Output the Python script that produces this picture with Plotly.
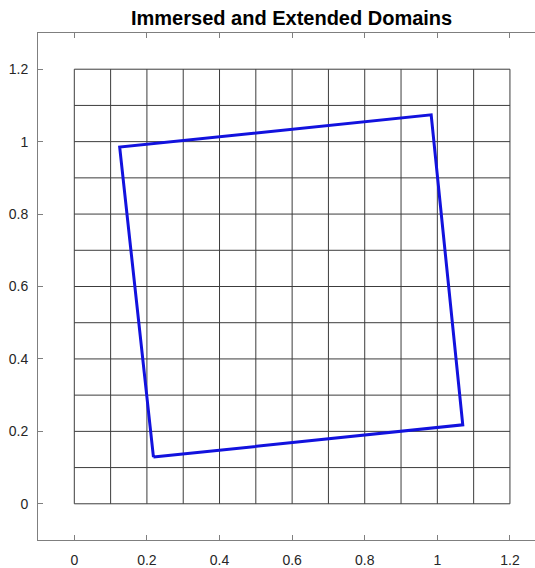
import plotly.graph_objects as go

# Background mesh nodes (extended domain) and immersed square vertices
grid_x = [0.0, 0.1, 0.2, 0.3, 0.4, 0.5, 0.6, 0.7, 0.8, 0.9, 1.0, 1.1, 1.2]
grid_y = [0.0, 0.1, 0.2, 0.3, 0.4, 0.5, 0.6, 0.7, 0.8, 0.9, 1.0, 1.1, 1.2]
domain_x = [0.218, 1.070, 0.983, 0.125, 0.218]
domain_y = [0.129, 0.218, 1.074, 0.985, 0.129]
tick_vals = [0, 0.2, 0.4, 0.6, 0.8, 1, 1.2]
tick_text = ["0", "0.2", "0.4", "0.6", "0.8", "1", "1.2"]

fig = go.Figure()

# mesh lines: vertical then horizontal, separated by None
mx, my = [], []
for gx in grid_x:
    mx += [gx, gx, None]
    my += [grid_y[0], grid_y[-1], None]
for gy in grid_y:
    mx += [grid_x[0], grid_x[-1], None]
    my += [gy, gy, None]
fig.add_trace(go.Scatter(x=mx, y=my, mode="lines",
                         line=dict(color="#3c3c3c", width=1),
                         hoverinfo="skip", showlegend=False))

fig.add_trace(go.Scatter(x=domain_x, y=domain_y, mode="lines",
                         line=dict(color="rgb(18,18,222)", width=3),
                         showlegend=False))

W, H = 535, 568
L, T, B = 37.5, 33, 25
fig.update_layout(
    width=W, height=H,
    margin=dict(l=L, r=0, t=T, b=B, pad=0),
    paper_bgcolor="white", plot_bgcolor="white",
    font=dict(family="Liberation Sans, Arial, sans-serif", size=14, color="#262626"),
    annotations=[dict(
        text="<b>Immersed and Extended Domains</b>",
        xref="paper", yref="paper", x=(291 - L) / (W - L), y=1.0,
        xanchor="center", yanchor="bottom", yshift=2,
        showarrow=False, font=dict(size=20, color="black"))],
)
fig.update_xaxes(range=[-0.1, 1.269], tickvals=tick_vals, ticktext=tick_text,
                 showgrid=False, zeroline=False, showline=True, linecolor="#7f7f7f",
                 linewidth=1, mirror="ticks", ticks="inside", ticklen=5,
                 tickcolor="#7f7f7f", ticklabelstandoff=7)
fig.update_yaxes(range=[-0.1, 1.3], tickvals=tick_vals, ticktext=tick_text,
                 showgrid=False, zeroline=False, showline=True, linecolor="#7f7f7f",
                 linewidth=1, mirror=False, ticks="inside", ticklen=5,
                 tickcolor="#7f7f7f", ticklabelstandoff=6)

fig.write_html("out.html")
